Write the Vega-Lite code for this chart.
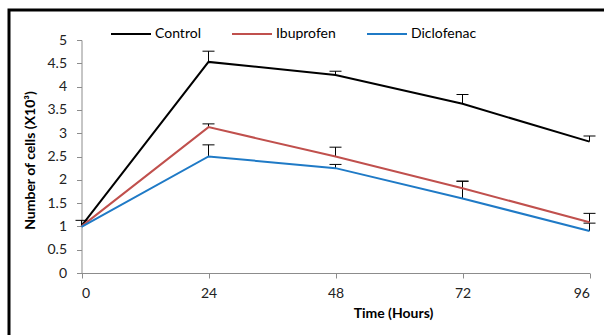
{
  "$schema": "https://vega.github.io/schema/vega-lite/v6.json",
  "width": 600,
  "height": 330,
  "autosize": {"type": "none"},
  "padding": {"left": 9, "top": 10, "right": 0, "bottom": 0},
  "background": "white",
  "config": {
    "view": {"stroke": "black", "strokeWidth": 3},
    "font": "Lato",
    "axis": {"grid": false, "domainColor": "#8c8c8c", "tickColor": "#8c8c8c", "labelFont": "Lato", "labelFontSize": 14, "labelColor": "#222", "titleFont": "Lato", "titleFontSize": 14, "titleFontWeight": "bold", "titleColor": "#000"}
  },
  "data": {
    "values": [
      {"series": "Control", "time": 0, "value": 1.01, "upper": 1.13},
      {"series": "Control", "time": 24, "value": 4.53, "upper": 4.76},
      {"series": "Control", "time": 48, "value": 4.25, "upper": 4.33},
      {"series": "Control", "time": 72, "value": 3.63, "upper": 3.83},
      {"series": "Control", "time": 96, "value": 2.82, "upper": 2.94},
      {"series": "Ibuprofen", "time": 0, "value": 1.0, "upper": null},
      {"series": "Ibuprofen", "time": 24, "value": 3.13, "upper": 3.2},
      {"series": "Ibuprofen", "time": 48, "value": 2.5, "upper": 2.7},
      {"series": "Ibuprofen", "time": 72, "value": 1.82, "upper": 1.97},
      {"series": "Ibuprofen", "time": 96, "value": 1.09, "upper": 1.28},
      {"series": "Diclofenac", "time": 0, "value": 0.99, "upper": null},
      {"series": "Diclofenac", "time": 24, "value": 2.5, "upper": 2.75},
      {"series": "Diclofenac", "time": 48, "value": 2.25, "upper": 2.33},
      {"series": "Diclofenac", "time": 72, "value": 1.6, "upper": 1.97},
      {"series": "Diclofenac", "time": 96, "value": 0.9, "upper": 1.07}
    ]
  },
  "encoding": {
    "x": {
      "field": "time", "type": "quantitative",
      "scale": {"domain": [0, 96], "range": [72.5, 580.5], "nice": false, "zero": false},
      "axis": {"values": [0, 24, 48, 72, 96], "offset": -67, "tickSize": 5, "labelPadding": 8, "title": "Time (Hours)", "titleX": 384, "titleY": 40, "titleBaseline": "middle", "titleAlign": "center"}
    },
    "y": {
      "field": "value", "type": "quantitative",
      "scale": {"domain": [0, 5], "range": [263, 30], "nice": false},
      "axis": {"values": [0, 0.5, 1, 1.5, 2, 2.5, 3, 3.5, 4, 4.5, 5], "format": "~g", "offset": -72.5, "tickSize": 5, "labelPadding": 10, "title": "Number of cells (X10³)", "titleX": -51, "titleY": 150, "titleAngle": -90, "titleBaseline": "middle", "titleAlign": "center"}
    }
  },
  "layer": [
    {
      "transform": [{"filter": "datum.upper != null"}],
      "mark": {"type": "rule", "color": "#000", "strokeWidth": 1},
      "encoding": {"y2": {"field": "upper"}}
    },
    {
      "transform": [{"filter": "datum.upper != null"}],
      "mark": {"type": "tick", "orient": "horizontal", "color": "#000", "size": 12, "thickness": 1, "opacity": 1},
      "encoding": {"y": {"field": "upper", "type": "quantitative"}}
    },
    {
      "mark": {"type": "line", "strokeWidth": 2},
      "encoding": {
        "color": {
          "field": "series", "type": "nominal",
          "scale": {"domain": ["Control", "Ibuprofen", "Diclofenac"], "range": ["#000000", "#C0504D", "#1F7AC6"]},
          "legend": {"orient": "none", "legendX": 101, "legendY": 3, "direction": "horizontal", "title": null, "symbolType": "stroke", "symbolSize": 1600, "symbolStrokeWidth": 2, "labelFontSize": 14, "labelFont": "Lato", "labelColor": "#000", "labelOffset": 3, "columnPadding": 27, "padding": 0}
        }
      }
    }
  ]
}
